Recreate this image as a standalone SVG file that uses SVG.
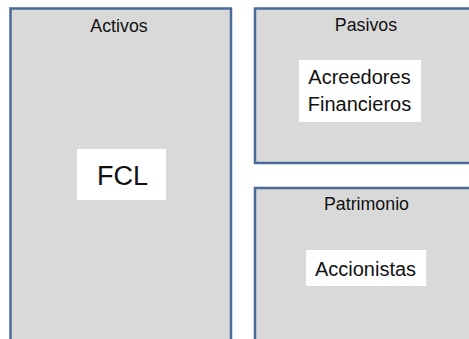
<svg xmlns="http://www.w3.org/2000/svg" width="469" height="339" viewBox="0 0 469 339">
<style>
.box{fill:#d9d9d9;stroke:#4a6a98;stroke-width:2.5}
.lbl{fill:#ffffff;stroke:none}
.t{font-family:"Liberation Sans",Arial,sans-serif;fill:#111111;text-anchor:middle}
.title{font-size:17.8px}
.body{font-size:20px}
</style>
<rect x="0" y="0" width="469" height="339" fill="#ffffff"/>
<g id="activos">
<rect class="box" x="10.5" y="8.5" width="220.5" height="345"/>
<text class="t title" x="119" y="32">Activos</text>
<rect class="lbl" x="77" y="149" width="89" height="51"/>
<text class="t" x="122.5" y="185" font-size="27">FCL</text>
</g>
<g id="pasivos">
<rect class="box" x="255" y="8.5" width="230" height="154.5"/>
<text class="t title" x="366" y="31">Pasivos</text>
<rect class="lbl" x="299" y="60" width="122" height="62"/>
<text class="t body" x="359.5" y="84">Acreedores</text>
<text class="t body" x="359.5" y="111">Financieros</text>
</g>
<g id="patrimonio">
<rect class="box" x="255" y="188" width="230" height="170"/>
<text class="t title" x="366.5" y="210">Patrimonio</text>
<rect class="lbl" x="306" y="250" width="120" height="36"/>
<text class="t body" x="365.5" y="276">Accionistas</text>
</g>
<g id="connectors"/>
</svg>
